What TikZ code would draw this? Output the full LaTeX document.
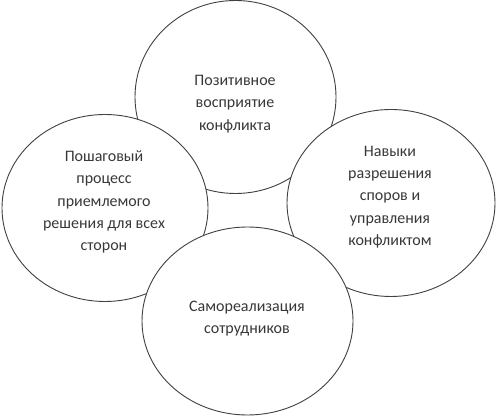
\documentclass[tikz,border=0pt]{standalone}
\usepackage{fontspec}
\setmainfont{Carlito}
\usetikzlibrary{shapes.geometric}
\begin{document}
\begin{tikzpicture}[x=1pt,y=1pt,
  blob/.style={ellipse,draw=black!75,line width=0.9pt,fill=white,inner sep=0pt},
  label/.style={align=center,inner sep=0pt,text=black!78,font=\fontsize{16}{22.3}\selectfont}]
\useasboundingbox (0,0) rectangle (500,419);
% circles (y = 419 - pixel y)
\node[blob,minimum width=201pt,minimum height=193pt] (top) at (235.5,322) {};
\node[blob,minimum width=206pt,minimum height=187pt] (left) at (105,211) {};
\node[blob,minimum width=208pt,minimum height=187pt] (right) at (391,216) {};
\node[blob,minimum width=211pt,minimum height=188pt] (bottom) at (247.5,98) {};
% texts
\node[label] (ttop) at (235,315) {Позитивное\\восприятие\\конфликта};
\node[label] (tleft) at (104,217) {Пошаговый\\процесс\\приемлемого\\решения для всех\\сторон};
\node[label] (tright) at (390,222) {Навыки\\разрешения\\споров и\\управления\\конфликтом};
\node[label] (tbottom) at (247,100.5) {Самореализация\\сотрудников};
\end{tikzpicture}
\end{document}
